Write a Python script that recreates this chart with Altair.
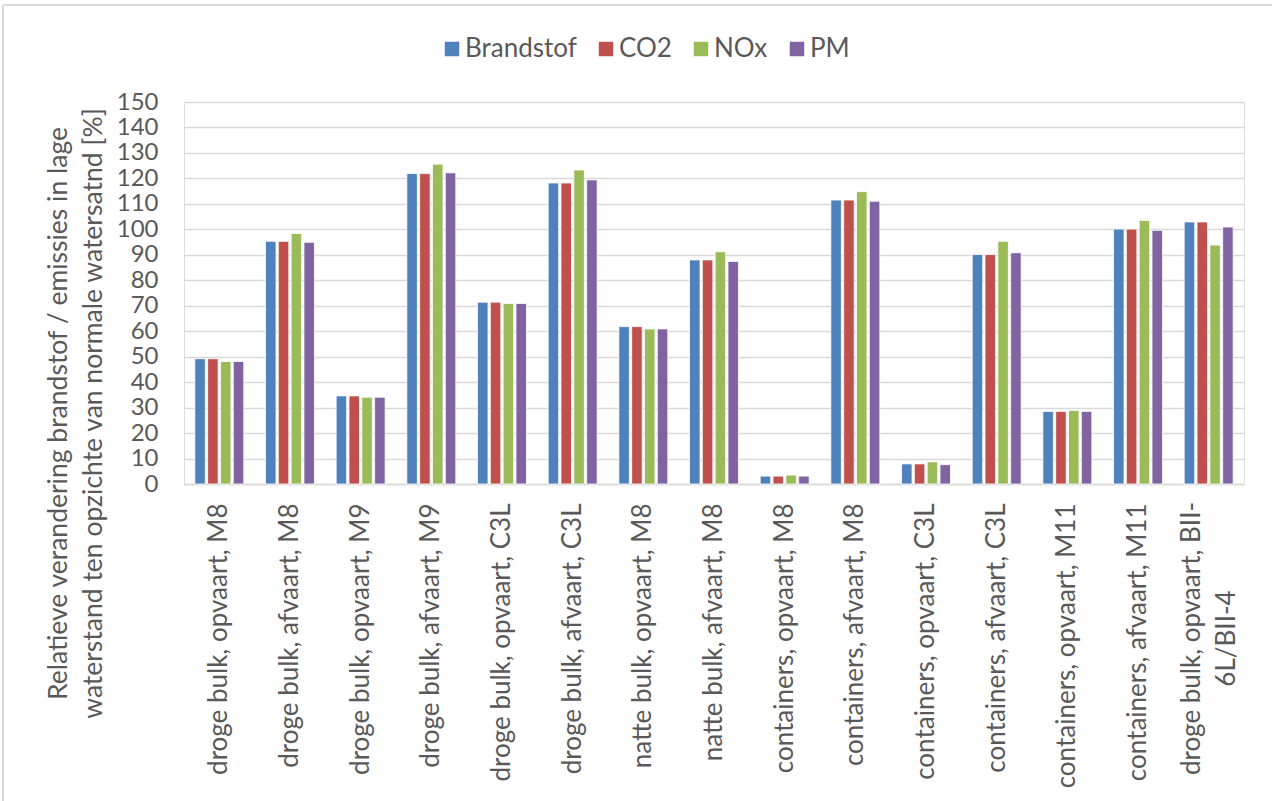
import altair as alt
import pandas as pd

# Categories (vessel type, direction, waterway class)
categories = [
    "droge bulk, opvaart, M8",
    "droge bulk, afvaart, M8",
    "droge bulk, opvaart, M9",
    "droge bulk, afvaart, M9",
    "droge bulk, opvaart, C3L",
    "droge bulk, afvaart, C3L",
    "natte bulk, opvaart, M8",
    "natte bulk, afvaart, M8",
    "containers, opvaart, M8",
    "containers, afvaart, M8",
    "containers, opvaart, C3L",
    "containers, afvaart, C3L",
    "containers, opvaart, M11",
    "containers, afvaart, M11",
    "droge bulk, opvaart, BII-6L/BII-4",
]

series = ["Brandstof", "CO2", "NOx", "PM"]
colors = ["#4F81BD", "#C0504D", "#9BBB59", "#8064A2"]

brandstof = [49.2, 95.3, 34.6, 121.9, 71.4, 118.2, 61.8, 88.0, 3.1, 111.5, 7.9, 90.1, 28.5, 100.1, 102.9]
co2 = [49.2, 95.3, 34.6, 121.9, 71.4, 118.2, 61.8, 88.0, 3.1, 111.5, 7.9, 90.1, 28.5, 100.1, 102.9]
nox = [48.1, 98.4, 34.1, 125.6, 70.9, 123.3, 60.9, 91.2, 3.5, 114.8, 8.7, 95.3, 28.9, 103.5, 93.8]
pm = [48.1, 94.9, 34.1, 122.2, 70.9, 119.4, 60.9, 87.4, 3.1, 111.0, 7.6, 90.8, 28.5, 99.6, 100.9]

y_ticks = list(range(0, 151, 10))

title_lines = [
    "Relatieve verandering brandstof / emissies in lage",
    "waterstand ten opzichte van normale watersatnd [%]",
]

rows = []
for name, vals in zip(series, [brandstof, co2, nox, pm]):
    for cat, v in zip(categories, vals):
        rows.append({"categorie": cat, "reeks": name, "waarde": v})
df = pd.DataFrame(rows)

TEXT = "#595959"
GRID = "#d9d9d9"
FONT = "Lato"

# the long last category wraps onto two centred lines
last = categories[-1]
is_last = f"datum.label == '{last}'"
label_expr = f"{is_last} ? ['droge bulk, opvaart, BII-', '6L/BII-4'] : datum.label"

bars = alt.Chart(df).mark_bar(stroke="white", strokeWidth=1, strokeOpacity=0.8).encode(
    x=alt.X(
        "categorie:N",
        sort=categories,
        scale=alt.Scale(paddingInner=0.307, paddingOuter=0.153),
        axis=alt.Axis(
            title=None,
            labelAngle=-90,
            labelAlign={"condition": {"test": is_last, "value": "center"}, "value": "right"},
            labelBaseline="middle",
            labelPadding={"condition": {"test": is_last, "value": 154}, "value": 19},
            labelOffset={"condition": {"test": is_last, "value": -17}, "value": 0},
            labelFontSize=26,
            labelColor=TEXT,
            labelFont=FONT,
            labelLimit=400,
            labelLineHeight=35,
            labelExpr=label_expr,
            ticks=False,
            tickSize=0,
            domainColor=GRID,
            domainWidth=1.5,
            grid=False,
        ),
    ),
    xOffset=alt.XOffset(
        "reeks:N", sort=series, scale=alt.Scale(paddingInner=0.18, paddingOuter=0)
    ),
    y=alt.Y(
        "waarde:Q",
        scale=alt.Scale(domain=[0, 150], nice=False),
        axis=alt.Axis(
            values=y_ticks,
            title=title_lines,
            titleFont=FONT,
            titleFontSize=26.5,
            titleFontWeight="normal",
            titleColor=TEXT,
            titleAngle=-90,
            titleAlign="center",
            titleBaseline="top",
            titleLineHeight=35,
            titleX=-139,
            titleY=311,
            labelFontSize=24,
            labelFont=FONT,
            labelColor=TEXT,
            labelPadding=26,
            ticks=False,
            tickSize=0,
            domain=False,
            grid=True,
            gridColor=GRID,
            gridWidth=1.5,
        ),
    ),
    color=alt.Color(
        "reeks:N",
        sort=series,
        scale=alt.Scale(domain=series, range=colors),
        legend=alt.Legend(
            title=None,
            orient="none",
            direction="horizontal",
            legendX=255,
            legendY=-66,
            symbolType="square",
            symbolSize=210,
            symbolStrokeWidth=0,
            labelFontSize=26,
            labelFont=FONT,
            labelColor=TEXT,
            labelOffset=0,
            columnPadding=16,
        ),
    ),
)

one = pd.DataFrame({"k": [0]})
border_left = alt.Chart(one).mark_rule(color=GRID, strokeWidth=2).encode(
    x=alt.value(-181), y=alt.value(-97), y2=alt.value(720)
)
border_top = alt.Chart(one).mark_rule(color=GRID, strokeWidth=2).encode(
    x=alt.value(-181), x2=alt.value(1090), y=alt.value(-97)
)

chart = (
    alt.layer(border_left, border_top, bars)
    .properties(
        width=1060,
        height=382,
        autosize=alt.AutoSizeParams(type="none"),
        padding={"left": 184, "top": 102, "right": 28, "bottom": 317},
        background="white",
    )
    .configure_view(stroke=None)
    .configure(font=FONT)
)

chart.save("out.html", embed_options={"renderer": "svg", "actions": False})
